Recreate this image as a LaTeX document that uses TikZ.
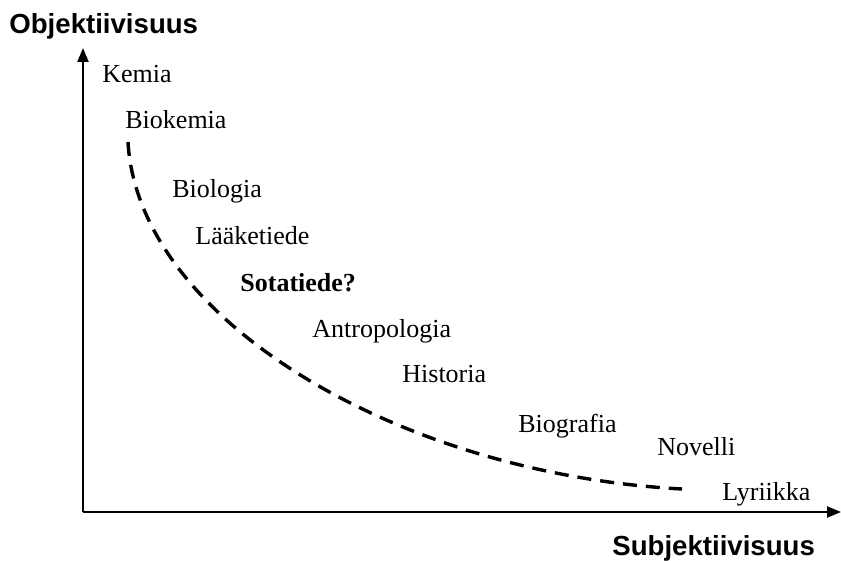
\documentclass[tikz,border=0pt]{standalone}
\usepackage{fontspec}
\setmainfont{Liberation Serif}
\newfontfamily\headfont{Liberation Sans}
\usetikzlibrary{arrows.meta}
\tikzset{
  axis/.style={line width=1.1pt, -{Triangle[length=7pt,width=5.5pt]}},
  curve/.style={line width=1.7pt, dash pattern=on 7pt off 4.5pt},
  item/.style={anchor=base west, inner sep=0pt, font=\fontsize{13}{15}\selectfont},
  bolditem/.style={item, font=\fontsize{13}{15}\selectfont\bfseries},
  axlabel/.style={anchor=base west, inner sep=0pt, font=\headfont\fontsize{13.8}{16}\selectfont\bfseries}
}
\begin{document}
\begin{tikzpicture}[x=0.5pt,y=-0.5pt]
\useasboundingbox (0,0) rectangle (841,561);
\coordinate (O) at (83,512);
\coordinate (Ytop) at (83,48);
\coordinate (Xend) at (841,512);
\draw[axis] (O) -- (Ytop);
\draw[axis] (O) -- (Xend);
\node[axlabel] (ylab) at (9,34) {Objektiivisuus};
\node[axlabel] (xlab) at (612,555) {Subjektiivisuus};
\node[item] (kemia) at (102,83) {Kemia};
\node[item] (biokemia) at (125,129) {Biokemia};
\node[item] (biologia) at (172,198) {Biologia};
\node[item] (laake) at (195,245) {Lääketiede};
\node[bolditem] (sota) at (240,292) {Sotatiede?};
\node[item] (antro) at (312,338) {Antropologia};
\node[item] (historia) at (402,383) {Historia};
\node[item] (biografia) at (518,432) {Biografia};
\node[item] (novelli) at (657,455) {Novelli};
\node[item] (lyriikka) at (722,500) {Lyriikka};
\coordinate (cs) at (128,142);
\coordinate (ce) at (682,489);
\draw[curve] (cs) .. controls (138,320) and (400,474) .. (ce);
\end{tikzpicture}
\end{document}
